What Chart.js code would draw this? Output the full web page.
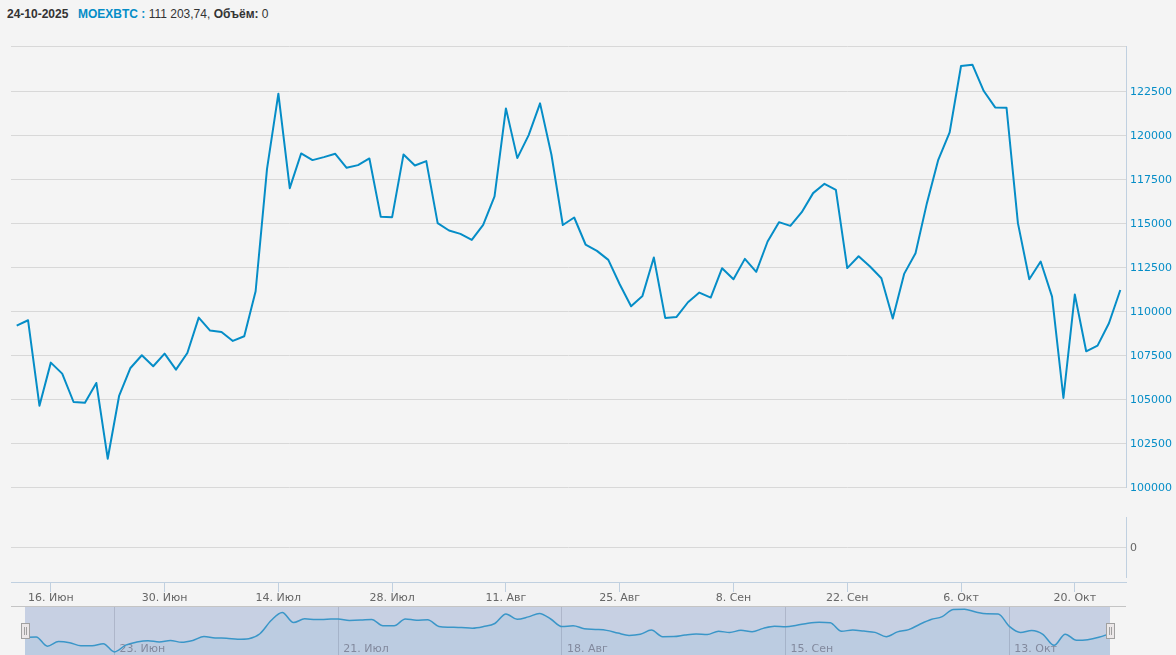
<!DOCTYPE html>
<html lang="ru">
<head>
<meta charset="utf-8">
<title>MOEXBTC</title>
<script src="https://cdn.jsdelivr.net/npm/chart.js@4/dist/chart.umd.min.js"></script>
<style>
  html, body { margin: 0; padding: 0; background: #f4f4f4; overflow: hidden; }
  body { width: 1176px; height: 655px; position: relative; }
  canvas { position: absolute; left: 0; }
  #head { position: absolute; top: 7px; left: 0; font: 12px "Liberation Sans", Arial, sans-serif; color: #333; white-space: pre; }
  #head span { position: absolute; top: 0; }
  #head b.blue { color: #058dc7; }
  #navTop { position: absolute; left: 11px; top: 606px; width: 1115px; height: 1px; background: #c4c4c4; }
  .handle { position: absolute; top: 623px; width: 7px; height: 14px; background: #ebe7e8; border: 1px solid #a0a0a0; }
  .handle i { position: absolute; top: 3px; width: 1px; height: 8px; background: #a0a0a0; }
</style>
</head>
<body>
<div id="head"><span style="left:7px"><b id="dateText"></b></span><span style="left:78px"><b class="blue">MOEXBTC :</b> 111 203,74, <b>Объём:</b> 0</span></div>
<canvas id="priceChart" width="1176" height="498" style="top:0"></canvas>
<canvas id="volumeChart" width="1176" height="106" style="top:500px"></canvas>
<canvas id="navChart" width="1176" height="49" style="top:606px"></canvas>
<div id="navTop"></div>
<div class="handle" style="left:21px"><i style="left:2px"></i><i style="left:4px"></i></div>
<div class="handle" style="left:1106px"><i style="left:2px"></i><i style="left:4px"></i></div>
<script>
const lastDate = '24-10-2025';

const categories = [
  '11. Июн','12. Июн','13. Июн','16. Июн','17. Июн','18. Июн','19. Июн','20. Июн','23. Июн','24. Июн','25. Июн','26. Июн','27. Июн','30. Июн',
  '1. Июл','2. Июл','3. Июл','4. Июл','7. Июл','8. Июл','9. Июл','10. Июл','11. Июл','14. Июл','15. Июл','16. Июл','17. Июл','18. Июл','21. Июл','22. Июл','23. Июл','24. Июл','25. Июл','28. Июл','29. Июл','30. Июл','31. Июл',
  '1. Авг','4. Авг','5. Авг','6. Авг','7. Авг','8. Авг','11. Авг','12. Авг','13. Авг','14. Авг','15. Авг','18. Авг','19. Авг','20. Авг','21. Авг','22. Авг','25. Авг','26. Авг','27. Авг','28. Авг','29. Авг',
  '1. Сен','2. Сен','3. Сен','4. Сен','5. Сен','8. Сен','9. Сен','10. Сен','11. Сен','12. Сен','15. Сен','16. Сен','17. Сен','18. Сен','19. Сен','22. Сен','23. Сен','24. Сен','25. Сен','26. Сен','29. Сен','30. Сен',
  '1. Окт','2. Окт','3. Окт','6. Окт','7. Окт','8. Окт','9. Окт','10. Окт','13. Окт','14. Окт','15. Окт','16. Окт','17. Окт','20. Окт','21. Окт','22. Окт','23. Окт','24. Окт'
];

const priceValues = [
  109185,109488,104640,107083,106458,104848,104810,105928,101628,105189,106780,107500,106875,107594,
  106685,107632,109640,108901,108825,108314,108579,111136,118068,122348,116988,118958,118579,118750,118939,118144,118295,118674,115360,115340,118901,118276,118523,
  115000,114583,114394,114053,114905,116515,121515,118693,120000,121799,118882,114896,115322,113788,113428,112917,111534,110284,110871,113049,109621,
  109678,110511,111060,110776,112443,111818,112973,112235,113958,115057,114848,115625,116705,117235,116894,112450,113125,112538,111875,109583,112121,113295,
  116136,118598,120151,123920,123996,122500,121572,121553,115000,111818,112822,110833,105075,110947,107727,108049,109318,111203.74
];

const volumeValues = priceValues.map(() => 0);

const priceTicks = [100000,102500,105000,107500,110000,112500,115000,117500,120000,122500];
const volumeTicks = [0];
const dateTicks = ['16. Июн','30. Июн','14. Июл','28. Июл','11. Авг','25. Авг','8. Сен','22. Сен','6. Окт','20. Окт'];
const navTicks = ['23. Июн','21. Июл','18. Авг','15. Сен','13. Окт'];

document.getElementById('dateText').textContent = lastDate;

const lineColor = '#058dc7';
const axisColor = '#c0d0e0';
const gridColor = '#d8d8d8';
const tickFont = { family: '"DejaVu Sans"', size: 11 };

function keepTicks(list) {
  return function (axis) {
    axis.ticks = axis.ticks.filter(t => list.includes(categories[t.value]));
  };
}

// x axis of the volume pane sits 5px under the pane
const shiftDateAxis = {
  id: 'shiftDateAxis',
  afterLayout(chart) {
    chart.scales.x.top += 5;
    chart.scales.x.bottom += 5;
  }
};

// navigator mask behind the series
const navMask = {
  id: 'navMask',
  beforeDraw(chart) {
    const a = chart.chartArea;
    chart.ctx.save();
    chart.ctx.fillStyle = '#c7d0e3';
    chart.ctx.fillRect(a.left, a.top, a.right - a.left, a.bottom - a.top);
    chart.ctx.restore();
  }
};

new Chart(document.getElementById('priceChart'), {
  type: 'line',
  data: {
    labels: categories,
    datasets: [{ data: priceValues, borderColor: lineColor, borderWidth: 2, pointRadius: 0, tension: 0, borderJoinStyle: 'round' }]
  },
  options: {
    responsive: false,
    animation: false,
    events: [],
    layout: { padding: { left: 11, top: 46, right: 0, bottom: 3 } },
    plugins: { legend: { display: false }, tooltip: { enabled: false } },
    scales: {
      x: { type: 'category', offset: true, display: false },
      y: {
        position: 'right',
        min: 100000,
        max: 125057,
        afterFit(axis) { axis.width = 50; },
        // the top edge of the pane also gets a grid line, without a label
        afterBuildTicks(axis) { axis.ticks = priceTicks.concat(axis.max).map(v => ({ value: v })); },
        grid: { color: gridColor, drawTicks: false },
        border: { color: axisColor },
        ticks: {
          padding: 4,
          labelOffset: 1,
          color: lineColor,
          font: tickFont,
          callback: v => priceTicks.includes(v) ? String(v) : ''
        }
      }
    }
  }
});

new Chart(document.getElementById('volumeChart'), {
  type: 'bar',
  data: {
    labels: categories,
    datasets: [{ data: volumeValues, backgroundColor: lineColor, borderWidth: 0 }]
  },
  options: {
    responsive: false,
    animation: false,
    events: [],
    layout: { padding: { left: 11, top: 17, right: 0, bottom: 0 } },
    plugins: { legend: { display: false }, tooltip: { enabled: false } },
    scales: {
      x: {
        type: 'category',
        offset: true,
        afterFit(axis) { axis.height = 29; },
        afterBuildTicks: keepTicks(dateTicks),
        grid: { drawOnChartArea: false, color: axisColor, tickLength: 10, offset: false },
        border: { color: axisColor },
        ticks: { autoSkip: false, maxRotation: 0, padding: 0, color: '#666', font: tickFont }
      },
      y: {
        position: 'right',
        min: -1,
        max: 1,
        afterFit(axis) { axis.width = 50; },
        afterBuildTicks(axis) { axis.ticks = volumeTicks.map(v => ({ value: v })); },
        grid: { color: gridColor, drawTicks: false },
        border: { color: axisColor },
        ticks: { padding: 4, labelOffset: 1, color: '#666', font: tickFont }
      }
    }
  },
  plugins: [shiftDateAxis]
});

new Chart(document.getElementById('navChart'), {
  type: 'line',
  data: {
    labels: categories,
    datasets: [{
      data: priceValues,
      borderColor: '#3a96c8',
      borderWidth: 1.5,
      pointRadius: 0,
      cubicInterpolationMode: 'monotone',
      fill: 'start',
      backgroundColor: 'rgba(5,141,199,0.05)'
    }]
  },
  options: {
    responsive: false,
    animation: false,
    events: [],
    layout: { padding: { left: 25, top: 0, right: 66, bottom: 0 } },
    plugins: { legend: { display: false }, tooltip: { enabled: false } },
    scales: {
      x: {
        type: 'category',
        afterFit(axis) { axis.height = 0; },
        afterBuildTicks: keepTicks(navTicks),
        grid: { color: '#aeb6ca', drawTicks: false },
        border: { display: false },
        // mirror keeps the labels inside the pane, they are not clipped to the zero height axis box
        ticks: { autoSkip: false, maxRotation: 0, mirror: true, align: 'start', labelOffset: 5, padding: -1, color: '#8a8a9c', font: tickFont }
      },
      y: { display: false, min: 100000, max: 125700 }
    }
  },
  plugins: [navMask]
});
</script>
</body>
</html>
